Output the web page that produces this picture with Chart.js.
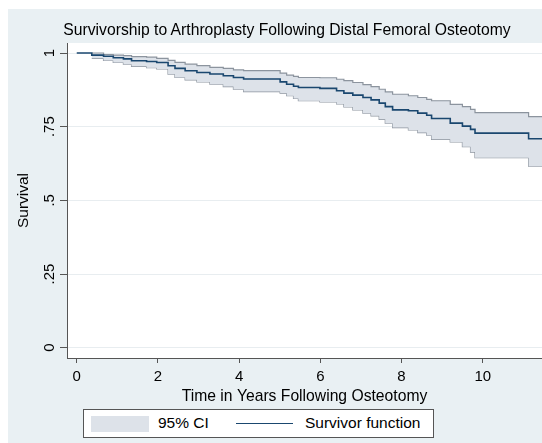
<!DOCTYPE html>
<html>
<head>
<meta charset="utf-8">
<script src="https://cdn.jsdelivr.net/npm/chart.js@4/dist/chart.umd.min.js"></script>
<style>
  body { margin: 0; background: #fff; font-family: 'Liberation Sans', Arial, sans-serif; }
  #wrap { position: relative; width: 542px; height: 443px; overflow: hidden; }
  #bg { position: absolute; left: 8px; top: 9px; right: 0; bottom: 0; background: rgb(233, 240, 243); }
  canvas { position: absolute; left: 0; top: 0; }
  #title { position: absolute; left: 0; width: 574px; top: 21px; text-align: center; font-size: 15.7px; color: #000; }
  #legend { position: absolute; left: 83px; top: 409px; width: 349px; height: 27px; background: #fff; border: 1px solid #555; font-size: 15.5px; color: #000; }
  #legend .sw { position: absolute; left: 7px; top: 6px; width: 58px; height: 16px; background: rgb(221, 226, 233); }
  #legend .t1 { position: absolute; left: 74px; top: 4px; }
  #legend .ln { position: absolute; left: 152px; top: 13px; width: 57px; height: 0; border-top: 1.5px solid rgb(26, 71, 111); }
  #legend .t2 { position: absolute; left: 221px; top: 4px; }
</style>
</head>
<body>
<div id="wrap">
  <div id="bg"></div>
  <canvas id="km" width="542" height="443"></canvas>
  <div id="title">Survivorship to Arthroplasty Following Distal Femoral Osteotomy</div>
  <div id="legend">
    <div class="sw"></div><div class="t1">95% CI</div>
    <div class="ln"></div><div class="t2">Survivor function</div>
  </div>
</div>
<script>
const years = [0, 0.37, 0.66, 0.90, 1.15, 1.35, 1.72, 1.97, 2.25, 2.42, 2.67, 2.96, 3.28, 3.61, 3.86, 4.11,
  5.01, 5.17, 5.34, 5.46, 5.99, 6.40, 6.58, 6.80, 7.05, 7.25, 7.45, 7.60, 7.78, 8.17, 8.40, 8.62, 8.74,
  9.20, 9.50, 9.70, 9.81, 11.13, 11.46];

const survival = [1, 0.993, 0.989, 0.984, 0.980, 0.974, 0.971, 0.968, 0.957, 0.948, 0.940, 0.934, 0.929, 0.923, 0.917, 0.912,
  0.902, 0.894, 0.887, 0.883, 0.880, 0.872, 0.864, 0.857, 0.849, 0.841, 0.830, 0.818, 0.807, 0.804, 0.796, 0.789, 0.778,
  0.762, 0.752, 0.741, 0.728, 0.709, 0.709];

const upperCI = [null, 1, 0.995, 0.993, 0.991, 0.988, 0.986, 0.982, 0.975, 0.968, 0.962, 0.957, 0.951, 0.948, 0.943, 0.940,
  0.932, 0.925, 0.921, 0.917, 0.916, 0.911, 0.906, 0.900, 0.893, 0.886, 0.877, 0.868, 0.860, 0.855, 0.849, 0.843, 0.838,
  0.826, 0.818, 0.809, 0.798, 0.784, 0.784];

const lowerCI = [null, 0.982, 0.975, 0.968, 0.962, 0.955, 0.950, 0.946, 0.928, 0.917, 0.909, 0.902, 0.894, 0.886, 0.877, 0.869,
  0.864, 0.855, 0.846, 0.838, 0.834, 0.827, 0.817, 0.807, 0.796, 0.787, 0.775, 0.762, 0.747, 0.739, 0.730, 0.721, 0.707,
  0.698, 0.682, 0.664, 0.645, 0.616, 0.616];

const xTicks = [0, 2, 4, 6, 8, 10];
const yTicks = [0, 0.25, 0.5, 0.75, 1];
const yTickLabels = ['0', '.25', '.5', '.75', '1'];

const toPoints = (vals) => years.map((t, i) => ({ x: t, y: vals[i] }));

const plotBackground = {
  id: 'plotBackground',
  beforeDraw(chart) {
    const { ctx, chartArea } = chart;
    ctx.save();
    ctx.fillStyle = '#fff';
    ctx.fillRect(chartArea.left, chartArea.top, chartArea.right - chartArea.left, chartArea.bottom - chartArea.top);
    ctx.restore();
  },
};

const tickFont = { family: "'Liberation Sans', Arial, sans-serif", size: 15 };
const axisColor = '#555';

// survivor first so it is drawn on top of the CI band
new Chart(document.getElementById('km'), {
  type: 'line',
  data: {
    datasets: [
      {
        label: 'Survivor function',
        data: toPoints(survival),
        stepped: true,
        borderColor: 'rgb(26, 71, 111)',
        borderWidth: 1.6,
        fill: false,
        pointRadius: 0,
      },
      {
        label: 'upper',
        data: toPoints(upperCI),
        stepped: true,
        borderColor: 'rgb(140, 148, 158)',
        borderWidth: 1.2,
        backgroundColor: 'rgb(221, 226, 233)',
        fill: '+1',
        pointRadius: 0,
      },
      {
        label: 'lower',
        data: toPoints(lowerCI),
        stepped: true,
        borderColor: 'rgb(140, 148, 158)',
        borderWidth: 1.2,
        fill: false,
        pointRadius: 0,
      },
    ],
  },
  options: {
    responsive: false,
    animation: false,
    layout: { padding: { top: 43, right: 0, bottom: 0, left: 0 } },
    plugins: { legend: { display: false }, tooltip: { enabled: false } },
    scales: {
      x: {
        type: 'linear',
        min: -0.24,
        max: 11.46,
        afterBuildTicks: (scale) => { scale.ticks = xTicks.map((v) => ({ value: v })); },
        afterFit: (scale) => { scale.height = 85; },
        ticks: { font: tickFont, color: '#000', padding: 5, maxRotation: 0 },
        grid: { drawOnChartArea: false, tickLength: 5, tickColor: axisColor },
        border: { display: true, color: axisColor, width: 1 },
        title: {
          display: true,
          text: 'Time in Years Following Osteotomy',
          font: { family: tickFont.family, size: 15.7 },
          color: '#000',
          padding: { top: 0, bottom: 37 },
        },
      },
      y: {
        min: -0.035,
        max: 1.034,
        afterBuildTicks: (scale) => { scale.ticks = yTicks.map((v) => ({ value: v })); },
        afterFit: (scale) => { scale.width = 67; },
        ticks: {
          font: tickFont,
          color: '#000',
          padding: 0,
          minRotation: 90,
          maxRotation: 90,
          crossAlign: 'center',
          callback: (v) => yTickLabels[yTicks.indexOf(v)],
        },
        grid: { color: 'rgb(232, 237, 240)', tickLength: 7, tickColor: axisColor },
        border: { display: true, color: axisColor, width: 1 },
        title: {
          display: true,
          text: 'Survival',
          font: { family: tickFont.family, size: 15.5 },
          color: '#000',
          padding: { top: 14, bottom: 0 },
        },
      },
    },
  },
  plugins: [plotBackground],
});
</script>
</body>
</html>
